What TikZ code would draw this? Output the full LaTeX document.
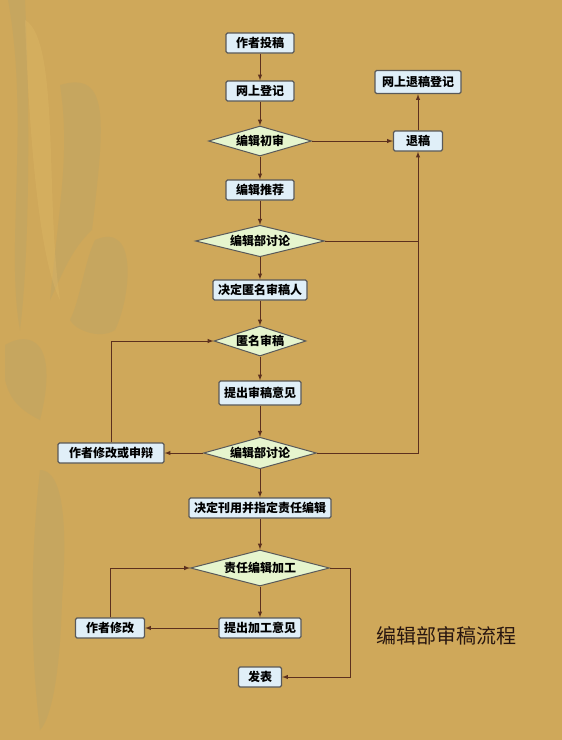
\documentclass[tikz,border=0pt]{standalone}
\usepackage{fontspec}
\newfontfamily\cjk{Noto Sans CJK SC}
\usetikzlibrary{positioning, shapes.geometric}

\definecolor{woodbg}{RGB}{207,168,90}
\definecolor{woodlt}{RGB}{224,186,104}
\definecolor{woodgr}{RGB}{178,162,108}
\definecolor{boxfill}{RGB}{224,239,248}
\definecolor{dmdfill}{RGB}{230,245,206}
\definecolor{linebrown}{RGB}{92,48,30}
\definecolor{titlebrown}{RGB}{40,22,16}

\tikzset{
  box/.style={draw=black!65, line width=1.3pt, fill=boxfill, rounded corners=1.5pt,
    inner xsep=5pt, inner ysep=2pt, minimum height=20pt,
    font=\cjk\bfseries\fontsize{12}{12}\selectfont},
  dmd/.style={diamond, draw=black!65, line width=1pt, fill=dmdfill, inner sep=0pt,
    shape aspect=3, minimum height=30pt,
    font=\cjk\bfseries\fontsize{12}{12}\selectfont},
  arr/.style={->, >=latex, draw=linebrown, line width=1pt},
  ln/.style={draw=linebrown, line width=1pt},
  grain/.style={fill=woodgr, opacity=.3},
}

\begin{document}
\begin{tikzpicture}[x=1pt, y=1pt, node distance=50pt, on grid]
  % background
  \fill[woodbg] (0,0) rectangle (562,-740);
  \fill[grain] (8,0) .. controls (30,-120) and (5,-250) .. (20,-330)
    .. controls (30,-250) and (30,-100) .. (25,0) -- cycle;
  \fill[grain] (60,-85) .. controls (110,-70) and (105,-120) .. (92,-230)
    .. controls (70,-250) and (60,-280) .. (50,-300) .. controls (60,-200) and (70,-150) .. (60,-85) -- cycle;
  \fill[grain] (95,-240) .. controls (140,-220) and (130,-300) .. (115,-330)
    .. controls (100,-340) and (75,-330) .. (70,-320) .. controls (80,-300) and (85,-260) .. (95,-240) -- cycle;
  \fill[grain] (5,-345) .. controls (30,-330) and (60,-340) .. (40,-420)
    .. controls (20,-410) and (10,-400) .. (5,-380) -- cycle;
  \fill[grain] (40,-470) .. controls (70,-470) and (65,-560) .. (62,-600)
    .. controls (60,-680) and (50,-720) .. (40,-730) .. controls (30,-650) and (30,-560) .. (40,-470) -- cycle;
  \fill[woodlt, opacity=.35] (25,-20) .. controls (60,-40) and (45,-200) .. (60,-300)
    .. controls (40,-260) and (30,-150) .. (25,-20) -- cycle;

  % main column
  \node[box, minimum width=68pt] (tg) at (260,-43) {作者投稿};
  \node[box, minimum width=68pt, below=48pt of tg] (dj) {网上登记};
  \node[dmd, minimum width=103pt, below=50pt of dj] (cs) {编辑初审};
  \node[box, minimum width=68pt, below=49pt of cs] (tj) {编辑推荐};
  \node[dmd, minimum width=129pt, below=51pt of tj] (tl) {编辑部讨论};
  \node[box, minimum width=94pt, below=49pt of tl] (jd) {决定匿名审稿人};
  \node[dmd, minimum width=92pt, below=51pt of jd] (nm) {匿名审稿};
  \node[box, minimum height=24pt, below=52pt of nm] (yj) {提出审稿意见};
  \node[dmd, minimum width=113pt, below=60pt of yj] (tlb) {编辑部讨论};
  \node[box, below=55pt of tlb] (ky) {决定刊用并指定责任编辑};
  \node[dmd, minimum width=139pt, minimum height=36pt, below=60pt of ky] (jg) {责任编辑加工};
  \node[box, below=60pt of jg] (jgyj) {提出加工意见};
  \node[box, minimum width=43pt, below=49pt of jgyj] (fb) {发表};

  % side nodes
  \node[box, minimum width=49pt, right=158pt of cs] (tuig) {退稿};
  \node[box, minimum width=86pt, minimum height=23pt, above=59pt of tuig] (wstg) {网上退稿登记};
  \node[box, minimum width=106pt, left=149pt of tlb] (sb) {作者修改或申辩};
  \node[box, minimum width=69pt, left=150pt of jgyj] (xg) {作者修改};
  \coordinate[right=20pt of jg.east] (jgr);

  \node[text=titlebrown, font=\cjk\fontsize{20}{20}\selectfont] (title) at (446,-636) {编辑部审稿流程};

  % connectors
  \draw[arr] (tg) -- (dj);
  \draw[arr] (dj) -- (cs);
  \draw[arr] (cs) -- (tj);
  \draw[arr] (tj) -- (tl);
  \draw[arr] (tl) -- (jd);
  \draw[arr] (jd) -- (nm);
  \draw[arr] (nm) -- (yj);
  \draw[arr] (yj) -- (tlb);
  \draw[arr] (tlb) -- (ky);
  \draw[arr] (ky) -- (jg);
  \draw[arr] (jg) -- (jgyj);

  \draw[arr] (cs.east) -- (tuig.west);
  \draw[arr] (tuig) -- (wstg);
  \draw[arr] (tlb.east) -| (tuig.south);
  \draw[ln] (tl.east) -- (tl.east -| tuig.south);

  \draw[arr] (tlb.west) -- (sb.east);
  \draw[arr] (sb.north) |- (nm.west);

  \draw[arr] (jgyj.west) -- (xg.east);
  \draw[arr] (xg.north) |- (jg.west);
  \draw[arr] (jg.east) -- (jgr) |- (fb.east);
\end{tikzpicture}
\end{document}
